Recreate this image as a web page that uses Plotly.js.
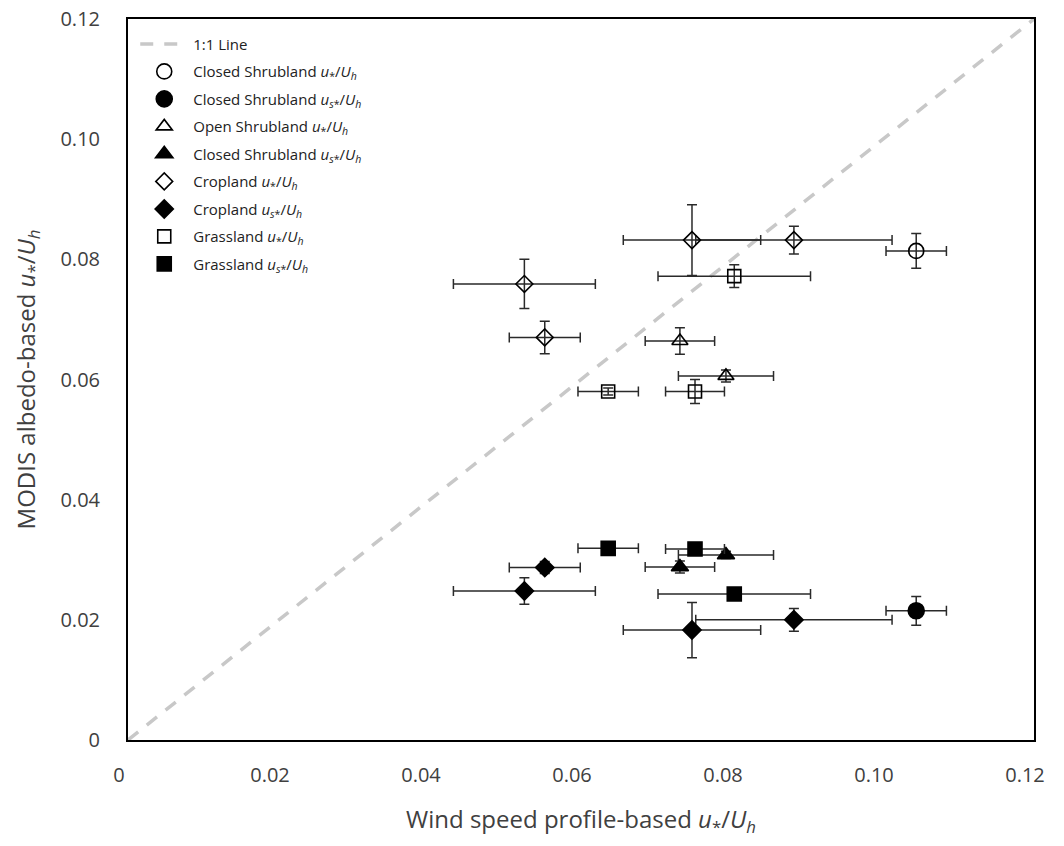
<!DOCTYPE html>
<html>
<head>
<meta charset="utf-8">
<script src="https://cdn.plot.ly/plotly-3.0.1.min.js"></script>
<style>html,body{margin:0;padding:0;background:#fff;}#chart{width:1064px;height:846px;}</style>
</head>
<body>
<div id="chart"></div>
<script>
// ---- data ----
const oneToOneX = [0, 0.12];
const oneToOneY = [0, 0.12];

// Closed shrubland (circles)
const csX = [0.1044];
const csXerr = [0.0040];
const csOpenY = [0.0814];
const csOpenYerr = [0.0029];
const csFillY = [0.0215];
const csFillYerr = [0.0024];

// Open / closed shrubland (triangles)
const osX = [0.0731, 0.0792];
const osXerr = [0.0046, 0.0063];
const osOpenY = [0.0664, 0.0606];
const osOpenYerr = [0.0022, 0.0010];
const osFillY = [0.0288, 0.0308];
const osFillYerr = [0.0010, 0.0006];

// Cropland (diamonds)
const crX = [0.0525, 0.0552, 0.0747, 0.0882];
const crXerr = [0.0094, 0.0047, 0.0091, 0.0130];
const crOpenY = [0.0759, 0.0670, 0.0832, 0.0832];
const crOpenYerr = [0.0041, 0.0027, 0.0059, 0.0023];
const crFillY = [0.0248, 0.0287, 0.0183, 0.0200];
const crFillYerr = [0.0022, 0.0010, 0.0046, 0.0019];

// Grassland (squares)
const grX = [0.0636, 0.0751, 0.0803];
const grXerr = [0.0040, 0.0039, 0.0101];
const grOpenY = [0.0580, 0.0580, 0.0772];
const grOpenYerr = [0.0006, 0.0020, 0.0019];
const grFillY = [0.0319, 0.0318, 0.0243];
const grFillYerr = [0.0004, 0.0004, 0.0004];

const names = [
  '1:1 Line',
  'Closed Shrubland <i>u</i><sub>*</sub>/<i>U</i><sub><i>h</i></sub>',
  'Closed Shrubland <i>u</i><sub><i>s</i>*</sub>/<i>U</i><sub><i>h</i></sub>',
  'Open Shrubland <i>u</i><sub>*</sub>/<i>U</i><sub><i>h</i></sub>',
  'Closed Shrubland <i>u</i><sub><i>s</i>*</sub>/<i>U</i><sub><i>h</i></sub>',
  'Cropland <i>u</i><sub>*</sub>/<i>U</i><sub><i>h</i></sub>',
  'Cropland <i>u</i><sub><i>s</i>*</sub>/<i>U</i><sub><i>h</i></sub>',
  'Grassland <i>u</i><sub>*</sub>/<i>U</i><sub><i>h</i></sub>',
  'Grassland <i>u</i><sub><i>s</i>*</sub>/<i>U</i><sub><i>h</i></sub>'
];

const errColor = '#2a2a2a';
function pts(i, x, xe, y, ye, symbol, size) {
  return {
    type: 'scatter', mode: 'markers', name: names[i], legendgroup: 'g' + i,
    x: x, y: y,
    error_x: {type: 'data', array: xe, visible: true, color: errColor, thickness: 1.5, width: 5},
    error_y: {type: 'data', array: ye, visible: true, color: errColor, thickness: 1.5, width: 5},
    marker: {symbol: symbol, size: size, color: '#000', line: {color: '#000', width: 1.6}}
  };
}

const data = [
  {type: 'scatter', mode: 'lines', name: names[0], legendgroup: 'g0', x: oneToOneX, y: oneToOneY,
   line: {color: '#c8c8c8', width: 3.5, dash: '13px,11px'}},
  pts(1, csX, csXerr, csOpenY, csOpenYerr, 'circle-open', 15),
  pts(2, csX, csXerr, csFillY, csFillYerr, 'circle', 16),
  pts(3, osX, osXerr, osOpenY, osOpenYerr, 'triangle-up-open', 14),
  pts(4, osX, osXerr, osFillY, osFillYerr, 'triangle-up', 15),
  pts(5, crX, crXerr, crOpenY, crOpenYerr, 'diamond-open', 13),
  pts(6, crX, crXerr, crFillY, crFillYerr, 'diamond', 14),
  pts(7, grX, grXerr, grOpenY, grOpenYerr, 'square-open', 13),
  pts(8, grX, grXerr, grFillY, grFillYerr, 'square', 14)
];

const tickVals = [0, 0.02, 0.04, 0.06, 0.08, 0.10, 0.12];
const tickText = ['0', '0.02', '0.04', '0.06', '0.08', '0.10', '0.12'];
const fontFam = 'Open Sans, Lato, DejaVu Sans, sans-serif';

const layout = {
  width: 1064, height: 846,
  margin: {l: 128, r: 30, t: 19, b: 106},
  paper_bgcolor: '#fff', plot_bgcolor: '#fff',
  font: {family: fontFam, color: '#404040'},
  showlegend: true,
  legend: {x: 0.008, y: 0.988, xanchor: 'left', yanchor: 'top', bgcolor: 'rgba(0,0,0,0)',
           font: {size: 15, color: '#222', family: fontFam}, tracegroupgap: 5, traceorder: 'grouped',
           itemwidth: 48},
  xaxis: {
    range: [0, 0.12], tickvals: tickVals, ticktext: tickText, ticks: '', showgrid: false, zeroline: false,
    showline: true, linecolor: '#000', linewidth: 2, mirror: true,
    tickfont: {size: 20, color: '#404040'}, ticklabelstandoff: 16, ticklabelshift: -9,
    title: {text: 'Wind speed profile-based <i>u</i><sub>*</sub>/<i>U</i><sub><i>h</i></sub>', font: {size: 24, color: '#404040'}, standoff: 24}
  },
  yaxis: {
    range: [0, 0.12], tickvals: tickVals, ticktext: tickText, ticks: '', showgrid: false, zeroline: false,
    showline: true, linecolor: '#000', linewidth: 2, mirror: true,
    tickfont: {size: 20, color: '#404040'}, ticklabelstandoff: 22,
    title: {text: 'MODIS albedo-based <i>u</i><sub>*</sub>/<i>U</i><sub><i>h</i></sub>', font: {size: 24, color: '#404040'}, standoff: 18}
  }
};

Plotly.newPlot('chart', data, layout, {displayModeBar: false, staticPlot: true});
</script>
</body>
</html>
